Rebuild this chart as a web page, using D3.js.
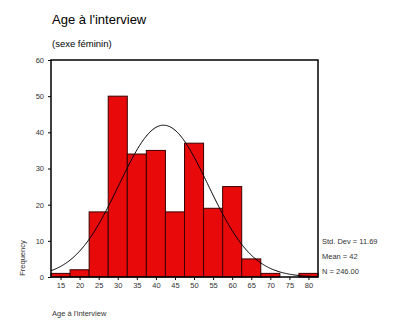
<!DOCTYPE html>
<html>
<head>
<meta charset="utf-8">
<script src="https://cdn.jsdelivr.net/npm/d3@7/dist/d3.min.js"></script>
<style>
  html, body { margin: 0; padding: 0; background: #fff; }
  svg text { font-family: "Liberation Sans", Arial, sans-serif; }
</style>
</head>
<body>
<svg id="chart" width="408" height="326"></svg>
<script>
// Age bins (centre of each 5-year class) and female counts
const binCenters = [15, 20, 25, 30, 35, 40, 45, 50, 55, 60, 65, 70, 75, 80];
const counts     = [1, 2, 18, 50, 34, 35, 18, 37, 19, 25, 5, 1, 0, 1];
const yTicks     = [0, 10, 20, 30, 40, 50, 60];
const stdDev = 11.69;
const mean = 42;
const nTotal = 246;
const binWidth = 5;

const svg = d3.select("#chart");
const plotLeft = 51, plotRight = 318, plotTop = 60, plotBottom = 277;

const x = d3.scaleLinear().domain([12.5, 82.5]).range([plotLeft, plotRight]);
const y = d3.scaleLinear().domain([0, 60]).range([plotBottom, plotTop]);

// titles
svg.append("text").attr("x", 52).attr("y", 24)
  .attr("font-size", 13).attr("fill", "#000").text("Age à l'interview");
svg.append("text").attr("x", 52).attr("y", 47)
  .attr("font-size", 9.5).attr("fill", "#000").text("(sexe féminin)");

// bars
svg.append("g").selectAll("rect").data(binCenters).join("rect")
  .attr("x", (d) => x(d - binWidth / 2))
  .attr("width", (d) => x(d + binWidth / 2) - x(d - binWidth / 2))
  .attr("y", (d, i) => y(counts[i]))
  .attr("height", (d, i) => y(0) - y(counts[i]))
  .attr("fill", "#e80a0a")
  .attr("stroke", "#3a0000")
  .attr("stroke-width", 1);

// fitted normal curve
const curvePts = d3.range(12.5, 82.51, 0.25).map((v) => [
  v,
  nTotal * binWidth / (stdDev * Math.sqrt(2 * Math.PI)) *
    Math.exp(-0.5 * ((v - mean) / stdDev) ** 2)
]);
svg.append("path")
  .attr("d", d3.line().x((d) => x(d[0])).y((d) => y(d[1]))(curvePts))
  .attr("fill", "none").attr("stroke", "#000").attr("stroke-width", 1);

// frame (left, top, right) and baseline
svg.append("path")
  .attr("d", `M${plotLeft},${plotBottom}V${plotTop}H${plotRight}V${plotBottom}H${plotLeft}`)
  .attr("fill", "none").attr("stroke", "#000").attr("stroke-width", 1.5);

// y axis
const yAxis = d3.axisLeft(y).tickValues(yTicks).tickSize(3).tickPadding(4);
const gy = svg.append("g").attr("transform", `translate(${plotLeft},0)`).call(yAxis);
gy.select(".domain").remove();
gy.selectAll("line").attr("stroke", "#000");
gy.selectAll("text").attr("font-size", 7.5).attr("fill", "#333")
  .attr("font-family", "'Liberation Sans', Arial, sans-serif");

// x axis
const xAxis = d3.axisBottom(x).tickValues(binCenters).tickSize(3).tickPadding(3);
const gx = svg.append("g").attr("transform", `translate(0,${plotBottom})`).call(xAxis);
gx.select(".domain").remove();
gx.selectAll("line").attr("stroke", "#000");
gx.selectAll("text").attr("font-size", 7.5).attr("fill", "#333")
  .attr("font-family", "'Liberation Sans', Arial, sans-serif");

// axis titles
svg.append("text").attr("transform", "translate(25,258) rotate(-90)")
  .attr("text-anchor", "middle").attr("font-size", 7.5).attr("fill", "#333")
  .text("Frequency");
svg.append("text").attr("x", 52).attr("y", 316)
  .attr("font-size", 7.5).attr("fill", "#333").text("Age à l'interview");

// summary statistics
const stats = [`Std. Dev = ${stdDev.toFixed(2)}`, `Mean = ${mean}`, `N = ${nTotal.toFixed(2)}`];
svg.append("g").selectAll("text").data(stats).join("text")
  .attr("x", 322).attr("y", (d, i) => 244 + i * 15)
  .attr("font-size", 7.5).attr("fill", "#333").text((d) => d);
</script>
</body>
</html>
